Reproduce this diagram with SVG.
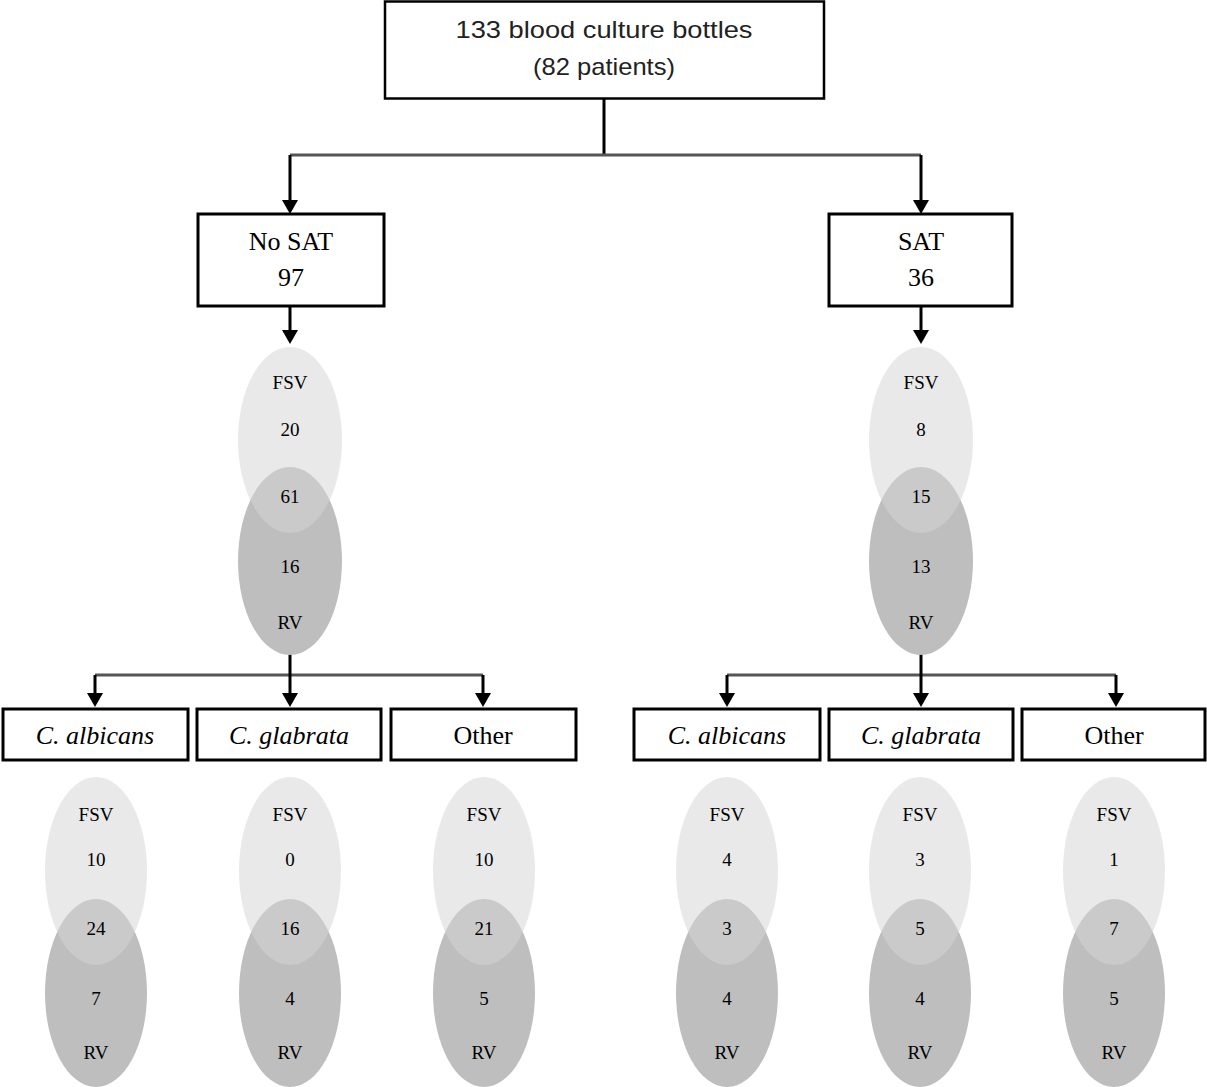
<svg xmlns="http://www.w3.org/2000/svg" width="1207" height="1087" viewBox="0 0 1207 1087">
<style>
.box{fill:#fff;stroke:#000;stroke-width:3}
.top{fill:#fff;stroke:#000;stroke-width:2.5}
.t-sans{font-family:"Liberation Sans",Arial,sans-serif;font-size:24px;fill:#222;text-anchor:middle}
.t-ser{font-family:"Liberation Serif","Times New Roman",serif;font-size:26px;fill:#000;text-anchor:middle}
.t-it{font-family:"Liberation Serif","Times New Roman",serif;font-size:26px;font-style:italic;fill:#000;text-anchor:middle}
.rv{fill:#bebebe}
.fsv{fill:#d5d5d5;fill-opacity:0.523}
.vt{font-family:"Liberation Serif","Courier New",serif;font-size:19px;fill:#000;text-anchor:middle}
.ln{stroke:#000;stroke-width:3;fill:none}
.hl{stroke:#555;stroke-width:3;fill:none}
</style>
<rect width="1207" height="1087" fill="#fff"/>

<g id="connectors">
<line class="ln" x1="604" y1="98" x2="604" y2="155"/>
<line class="hl" x1="290" y1="155" x2="921" y2="155"/>
<path class="ln" d="M290,155 V200" />
<path d="M282,200 L298,200 L290,214 Z"/>
<path class="ln" d="M921,155 V200" />
<path d="M913,200 L929,200 L921,214 Z"/>
<path class="ln" d="M290,306 V330"/>
<path d="M282,330 L298,330 L290,344 Z"/>
<path class="ln" d="M921,306 V330"/>
<path d="M913,330 L929,330 L921,344 Z"/>

<line class="hl" x1="95" y1="675" x2="483" y2="675"/>
<path class="ln" d="M290,652 V693"/>
<path class="ln" d="M95,675 V693"/>
<path class="ln" d="M483,675 V693"/>
<path d="M87,693 L103,693 L95,707 Z"/>
<path d="M282,693 L298,693 L290,707 Z"/>
<path d="M475,693 L491,693 L483,707 Z"/>

<line class="hl" x1="727" y1="675" x2="1116" y2="675"/>
<path class="ln" d="M921,652 V693"/>
<path class="ln" d="M727,675 V693"/>
<path class="ln" d="M1116,675 V693"/>
<path d="M719,693 L735,693 L727,707 Z"/>
<path d="M913,693 L929,693 L921,707 Z"/>
<path d="M1108,693 L1124,693 L1116,707 Z"/>
</g>

<g id="root">
<rect class="top" x="385" y="1.5" width="439" height="97"/>
<text class="t-sans" x="604" y="38" textLength="297" lengthAdjust="spacingAndGlyphs">133 blood culture bottles</text>
<text class="t-sans" x="604" y="75" textLength="142" lengthAdjust="spacingAndGlyphs">(82 patients)</text>
</g>

<g id="nosat">
<rect class="box" x="198" y="214" width="186" height="92"/>
<text class="t-ser" x="291" y="250">No SAT</text>
<text class="t-ser" x="291" y="286">97</text>
</g>
<g id="sat">
<rect class="box" x="829" y="214" width="183" height="92"/>
<text class="t-ser" x="921" y="250">SAT</text>
<text class="t-ser" x="921" y="286">36</text>
</g>

<g id="venn-nosat" transform="translate(290,440)">
<ellipse class="rv" cx="0" cy="121" rx="52" ry="94"/>
<ellipse class="fsv" cx="0" cy="0" rx="52" ry="93"/>
<text class="vt" y="-51">FSV</text>
<text class="vt" y="-4">20</text>
<text class="vt" y="63">61</text>
<text class="vt" y="133">16</text>
<text class="vt" y="189">RV</text>
</g>
<g id="venn-sat" transform="translate(921,440)">
<ellipse class="rv" cx="0" cy="121" rx="52" ry="94"/>
<ellipse class="fsv" cx="0" cy="0" rx="52" ry="93"/>
<text class="vt" y="-51">FSV</text>
<text class="vt" y="-4">8</text>
<text class="vt" y="63">15</text>
<text class="vt" y="133">13</text>
<text class="vt" y="189">RV</text>
</g>

<g id="nosat-albicans">
<rect class="box" x="3" y="709" width="185" height="51"/>
<text class="t-it" x="95" y="744">C. albicans</text>
</g>
<g id="nosat-glabrata">
<rect class="box" x="197" y="709" width="184" height="51"/>
<text class="t-it" x="289" y="744">C. glabrata</text>
</g>
<g id="nosat-other">
<rect class="box" x="391" y="709" width="185" height="51"/>
<text class="t-ser" x="483" y="744">Other</text>
</g>
<g id="sat-albicans">
<rect class="box" x="634" y="709" width="186" height="51"/>
<text class="t-it" x="727" y="744">C. albicans</text>
</g>
<g id="sat-glabrata">
<rect class="box" x="829" y="709" width="184" height="51"/>
<text class="t-it" x="921" y="744">C. glabrata</text>
</g>
<g id="sat-other">
<rect class="box" x="1022" y="709" width="183" height="51"/>
<text class="t-ser" x="1114" y="744">Other</text>
</g>

<g id="venn-nosat-albicans" transform="translate(96,871)">
<ellipse class="rv" cx="0" cy="122" rx="51" ry="94"/>
<ellipse class="fsv" cx="0" cy="0" rx="51" ry="94"/>
<text class="vt" y="-50">FSV</text>
<text class="vt" y="-5">10</text>
<text class="vt" y="64">24</text>
<text class="vt" y="134">7</text>
<text class="vt" y="188">RV</text>
</g>
<g id="venn-nosat-glabrata" transform="translate(290,871)">
<ellipse class="rv" cx="0" cy="122" rx="51" ry="94"/>
<ellipse class="fsv" cx="0" cy="0" rx="51" ry="94"/>
<text class="vt" y="-50">FSV</text>
<text class="vt" y="-5">0</text>
<text class="vt" y="64">16</text>
<text class="vt" y="134">4</text>
<text class="vt" y="188">RV</text>
</g>
<g id="venn-nosat-other" transform="translate(484,871)">
<ellipse class="rv" cx="0" cy="122" rx="51" ry="94"/>
<ellipse class="fsv" cx="0" cy="0" rx="51" ry="94"/>
<text class="vt" y="-50">FSV</text>
<text class="vt" y="-5">10</text>
<text class="vt" y="64">21</text>
<text class="vt" y="134">5</text>
<text class="vt" y="188">RV</text>
</g>
<g id="venn-sat-albicans" transform="translate(727,871)">
<ellipse class="rv" cx="0" cy="122" rx="51" ry="94"/>
<ellipse class="fsv" cx="0" cy="0" rx="51" ry="94"/>
<text class="vt" y="-50">FSV</text>
<text class="vt" y="-5">4</text>
<text class="vt" y="64">3</text>
<text class="vt" y="134">4</text>
<text class="vt" y="188">RV</text>
</g>
<g id="venn-sat-glabrata" transform="translate(920,871)">
<ellipse class="rv" cx="0" cy="122" rx="51" ry="94"/>
<ellipse class="fsv" cx="0" cy="0" rx="51" ry="94"/>
<text class="vt" y="-50">FSV</text>
<text class="vt" y="-5">3</text>
<text class="vt" y="64">5</text>
<text class="vt" y="134">4</text>
<text class="vt" y="188">RV</text>
</g>
<g id="venn-sat-other" transform="translate(1114,871)">
<ellipse class="rv" cx="0" cy="122" rx="51" ry="94"/>
<ellipse class="fsv" cx="0" cy="0" rx="51" ry="94"/>
<text class="vt" y="-50">FSV</text>
<text class="vt" y="-5">1</text>
<text class="vt" y="64">7</text>
<text class="vt" y="134">5</text>
<text class="vt" y="188">RV</text>
</g>
</svg>
